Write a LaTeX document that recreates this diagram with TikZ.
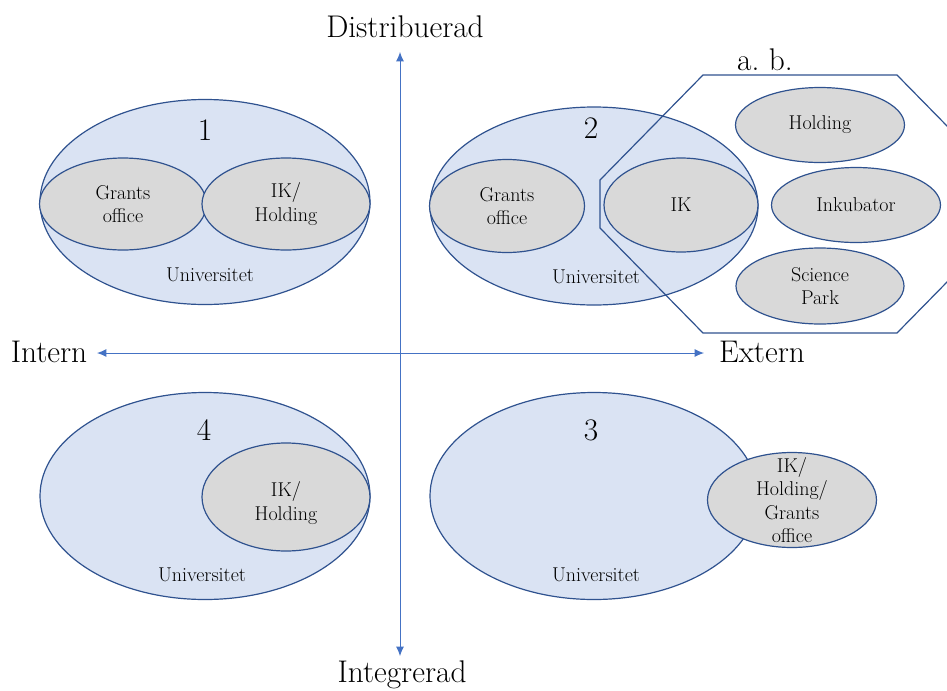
\documentclass[tikz,border=0pt]{standalone}
\usetikzlibrary{shapes.geometric,arrows.meta}
\definecolor{edgeblue}{RGB}{47,82,143}
\definecolor{fillblue}{RGB}{218,227,243}
\definecolor{fillgray}{RGB}{217,217,217}
\definecolor{axisblue}{RGB}{68,114,196}
\tikzset{
  uni/.style={ellipse, draw=edgeblue, fill=fillblue, line width=0.9pt, inner sep=0pt},
  unit/.style={ellipse, draw=edgeblue, fill=fillgray, line width=0.9pt, inner sep=0pt},
  small/.style={font=\fontsize{15}{17.5}\selectfont, align=center, inner sep=0pt},
  big/.style={font=\fontsize{23.5}{28}\selectfont, inner sep=0pt},
  axis/.style={draw=axisblue, line width=0.75pt, {Latex[length=7pt,width=6pt]}-{Latex[length=7pt,width=6pt]}},
  octa/.style={draw=edgeblue, line width=0.9pt}
}
\begin{document}
\begin{tikzpicture}[x=0.75pt,y=-0.75pt]
\useasboundingbox (0,0) rectangle (947,690);
\clip (0,0) rectangle (947,690);

% axes
\coordinate (top) at (400,52);
\coordinate (bottom) at (400,656);
\coordinate (left) at (97,353);
\coordinate (right) at (704,353);
\draw[axis] (top) -- (bottom);
\draw[axis] (left) -- (right);
\node[big] (ldist) at (405,27) {Distribuerad};
\node[big] (linteg) at (402,675) {Integrerad};
\node[big] (lintern) at (49,352) {Intern};
\node[big] (lextern) at (762,352) {Extern};

% 1
\node[uni, minimum width=247.5pt, minimum height=153.75pt] (u1) at (205,202) {};
\node[unit, minimum width=125.25pt, minimum height=69pt] (g1) at (123,204) {};
\node[unit, minimum width=126pt, minimum height=69pt] (h1) at (286,204) {};
\node[small] at (g1) {Grants\\office};
\node[small] at (h1) {IK/\\Holding};
\node[big] (n1) at (205,130) {1};
\node[small] (t1) at (210,275) {Universitet};

% 2
\node[uni, minimum width=246pt, minimum height=148.5pt] (u2) at (594,206) {};
\node[unit, minimum width=116.25pt, minimum height=69.75pt] (g2) at (507,206) {};
\node[small] at (g2) {Grants\\office};
\node[big] (n2) at (591,128) {2};
\node[small] (t2) at (596,277) {Universitet};

% a. b. frame
\coordinate (o1) at (703,75);
\coordinate (o2) at (897,75);
\coordinate (o3) at (1000,180);
\coordinate (o4) at (1000,228);
\coordinate (o5) at (897,333);
\coordinate (o6) at (703,333);
\coordinate (o7) at (600,228);
\coordinate (o8) at (600,180);
\draw[octa] (o1) -- (o2) -- (o3) -- (o4) -- (o5) -- (o6) -- (o7) -- (o8) -- cycle;
\node[big] (ab) at (765,60) {a.\ b.};
\node[unit, minimum width=115.5pt, minimum height=70.5pt] (ik2) at (681,205) {};
\node[small] at (ik2) {IK};
\node[unit, minimum width=126.75pt, minimum height=56.25pt] (hold) at (820,125) {};
\node[small] at (hold) {Holding};
\node[unit, minimum width=126.75pt, minimum height=56.25pt] (inku) at (856,205) {};
\node[small] at (inku) {Inkubator};
\node[unit, minimum width=126pt, minimum height=57pt] (sci) at (820,286) {};
\node[small] at (sci) {Science\\Park};

% 4
\node[uni, minimum width=247.5pt, minimum height=155.25pt] (u4) at (205,496) {};
\node[unit, minimum width=126pt, minimum height=81pt] (h4) at (286,497) {};
\node[small] at ([yshift=-4.5pt]h4.center) {IK/\\Holding};
\node[big] (n4) at (204,430) {4};
\node[small] (t4) at (202,575) {Universitet};

% 3
\node[uni, minimum width=246pt, minimum height=155.25pt] (u3) at (594,496) {};
\node[unit, minimum width=126.75pt, minimum height=71.25pt] (h3) at (792,500) {};
\node[small] at (h3) {IK/\\Holding/\\Grants\\office};
\node[big] (n3) at (591,430) {3};
\node[small] (t3) at (596,575) {Universitet};
\end{tikzpicture}
\end{document}
